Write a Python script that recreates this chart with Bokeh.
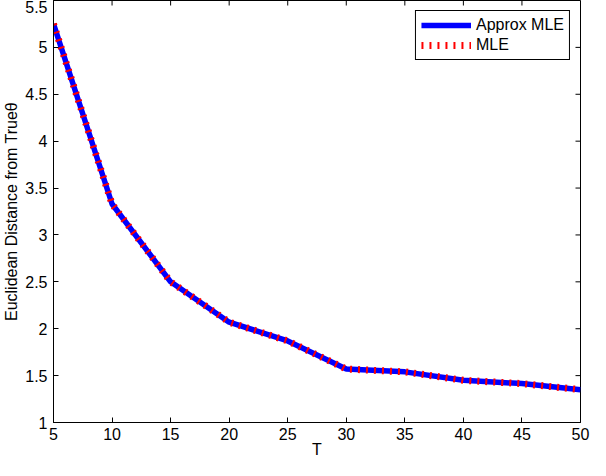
import math
from bokeh.plotting import figure
from bokeh.models import ColumnDataSource, Range1d, FixedTicker, Legend, LegendItem
from bokeh.embed import file_html
from bokeh.resources import INLINE

# values
T = [5, 10, 15, 20, 25, 30, 35, 40, 45, 50]
approx_mle = [5.25, 3.33, 2.50, 2.07, 1.87, 1.57, 1.54, 1.45, 1.415, 1.35]
mle = [5.25, 3.33, 2.50, 2.07, 1.87, 1.57, 1.54, 1.45, 1.415, 1.35]

x_ticks = [5, 10, 15, 20, 25, 30, 35, 40, 45, 50]
y_ticks = [1, 1.5, 2, 2.5, 3, 3.5, 4, 4.5, 5, 5.5]
y_tick_labels = ["1", "1.5", "2", "2.5", "3", "3.5", "4", "4.5", "5", "5.5"]

FONT = "Liberation Sans"
FS = "16px"

x_min, x_max = x_ticks[0], x_ticks[-1]
y_min, y_max = y_ticks[0], y_ticks[-1]

source = ColumnDataSource({"T": T, "approx": approx_mle, "mle": mle})

p = figure(width=590, height=460, output_backend="svg", toolbar_location=None,
           x_range=Range1d(x_min, x_max), y_range=Range1d(y_min, y_max),
           min_border_left=45, min_border_right=10, min_border_top=0,
           min_border_bottom=10)
p.xgrid.visible = False
p.ygrid.visible = False
p.outline_line_color = "black"
p.outline_line_alpha = 1.0
p.background_fill_color = "white"
p.border_fill_color = "white"

for ax, ticks in ((p.xaxis[0], x_ticks), (p.yaxis[0], y_ticks)):
    ax.ticker = FixedTicker(ticks=ticks)
    ax.axis_line_color = "black"
    ax.major_tick_line_color = "black"
    ax.major_tick_in = 5
    ax.major_tick_out = 0
    ax.minor_tick_line_color = None
    ax.major_label_text_font = FONT
    ax.major_label_text_font_size = FS
    ax.major_label_text_color = "black"
    ax.axis_label_text_font = FONT
    ax.axis_label_text_font_style = "normal"
    ax.axis_label_text_font_size = FS
    ax.axis_label_text_color = "black"

p.xaxis[0].major_label_standoff = 5
p.yaxis[0].major_label_standoff = 6
p.yaxis[0].major_label_overrides = {v: s for v, s in zip(y_ticks, y_tick_labels)}
p.xaxis[0].axis_label = "T"
p.xaxis[0].axis_label_standoff = -2
p.yaxis[0].axis_label = "Euclidean Distance from Trueθ"
p.yaxis[0].axis_label_standoff = 2

# box ticks on top and right sides, like the original
p.ray(x=x_ticks, y=[y_max] * len(x_ticks), length=5, length_units="screen",
      angle=-math.pi / 2, line_color="black", line_width=1)
p.ray(x=[x_max] * len(y_ticks), y=y_ticks, length=5, length_units="screen",
      angle=math.pi, line_color="black", line_width=1)

r_approx = p.line("T", "approx", source=source, line_color="#0000ff", line_width=5.5)
r_mle = p.line("T", "mle", source=source, line_color="#ff0000", line_width=7,
               line_dash="2 6")

legend = Legend(items=[LegendItem(label="Approx MLE", renderers=[r_approx]),
                       LegendItem(label="MLE", renderers=[r_mle])],
                location="top_right")
legend.label_text_font = FONT
legend.label_text_font_size = FS
legend.label_text_color = "black"
legend.glyph_width = 50
legend.glyph_height = 18
legend.label_height = 18
legend.label_standoff = 5
legend.spacing = 2
legend.padding = 5
legend.margin = 10
legend.border_line_color = "black"
legend.border_line_alpha = 1.0
legend.background_fill_alpha = 1.0
p.add_layout(legend, "center")

open("out.html", "w").write(file_html(p, INLINE))
